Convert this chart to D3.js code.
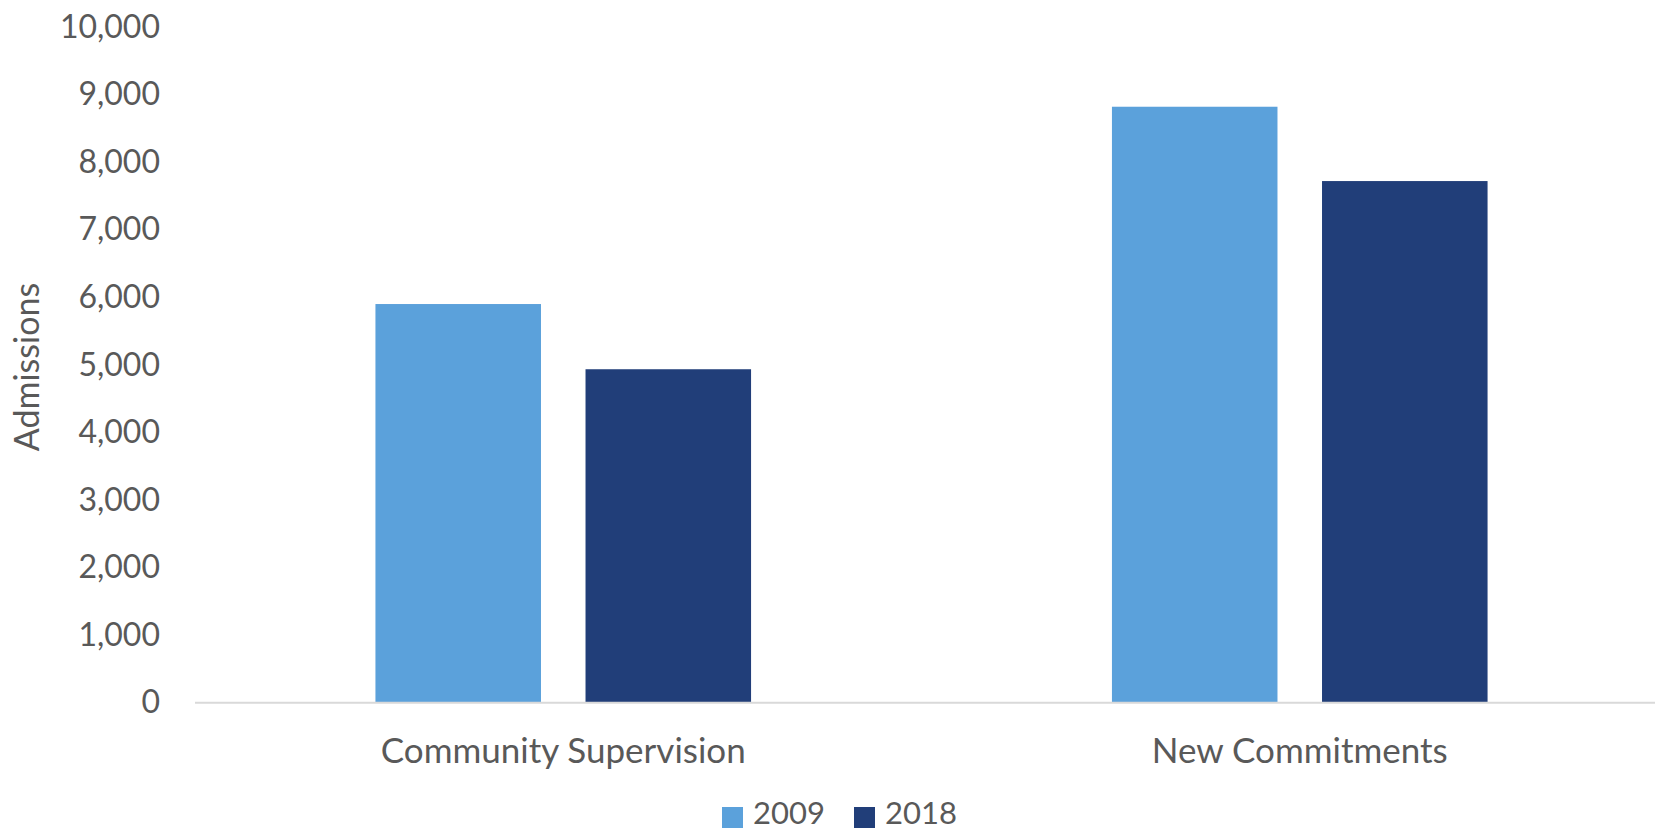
<!DOCTYPE html>
<html>
<head>
<meta charset="utf-8">
<script src="https://cdn.jsdelivr.net/npm/d3@7"></script>
<style>
  html, body { margin: 0; padding: 0; background: #fff; }
  svg { display: block; }
  text { font-family: Lato, "Open Sans", sans-serif; fill: #595959; }
</style>
</head>
<body>
<svg id="chart" width="1655" height="832"></svg>
<script>
const categories = ["Community Supervision", "New Commitments"];
const seriesNames = ["2009", "2018"];
const values2009 = [5900, 8820];
const values2018 = [4935, 7720];
const yTicks = [0, 1000, 2000, 3000, 4000, 5000, 6000, 7000, 8000, 9000, 10000];
const colors = ["#5BA1DB", "#213E79"];

const seriesValues = [values2009, values2018];
const data = categories.map((c, i) => ({
  category: c,
  values: seriesNames.map((s, j) => ({ series: s, value: seriesValues[j][i] }))
}));

const svg = d3.select("#chart");
const plot = { left: 195, right: 1668, top: 27, bottom: 702.7 };

const x0 = d3.scaleBand().domain(categories).range([plot.left, plot.right])
  .paddingInner(0.49).paddingOuter(0.245);
const x1 = d3.scaleBand().domain(seriesNames).range([0, x0.bandwidth()]).paddingInner(0.212);
const y = d3.scaleLinear().domain([0, 10000]).range([plot.bottom, plot.top]);
const color = d3.scaleOrdinal().domain(seriesNames).range(colors);

// bars
const groups = svg.append("g").selectAll("g").data(data).join("g")
  .attr("transform", d => `translate(${x0(d.category)},0)`);
groups.selectAll("rect").data(d => d.values).join("rect")
  .attr("x", d => x1(d.series))
  .attr("width", x1.bandwidth())
  .attr("y", d => y(d.value))
  .attr("height", d => y(0) - y(d.value))
  .attr("fill", d => color(d.series));

// baseline
svg.append("line")
  .attr("x1", plot.left).attr("x2", plot.right)
  .attr("y1", y(0)).attr("y2", y(0))
  .attr("stroke", "#d9d9d9").attr("stroke-width", 2);

// y axis labels
const yAxis = d3.axisLeft(y).tickValues(yTicks).tickFormat(d3.format(",")).tickSize(0).tickPadding(0);
const yg = svg.append("g").attr("transform", "translate(160,0)").call(yAxis);
yg.select(".domain").remove();
yg.selectAll("text").attr("font-size", 32).attr("fill", "#595959")
  .style("font-family", "Lato, sans-serif");

// x axis labels
const xAxis = d3.axisBottom(x0).tickSize(0).tickPadding(0);
const xg = svg.append("g").attr("transform", `translate(0,${plot.bottom})`).call(xAxis);
xg.select(".domain").remove();
xg.selectAll("text").attr("font-size", 35).attr("fill", "#595959").attr("dy", null)
  .attr("y", 51).attr("dominant-baseline", "middle")
  .style("font-family", "Lato, sans-serif");

// y title
svg.append("text")
  .attr("transform", "translate(30,367) rotate(-90)")
  .attr("text-anchor", "middle").attr("dominant-baseline", "middle")
  .attr("font-size", 34).text("Admissions");

// legend
const legendX = [722, 854];
const lg = svg.append("g").selectAll("g").data(seriesNames).join("g")
  .attr("transform", (d, i) => `translate(${legendX[i]},807)`);
lg.append("rect").attr("width", 21).attr("height", 21).attr("fill", d => color(d));
lg.append("text").attr("x", 31).attr("y", 9).attr("dominant-baseline", "middle")
  .attr("font-size", 31).text(d => d);
</script>
</body>
</html>
